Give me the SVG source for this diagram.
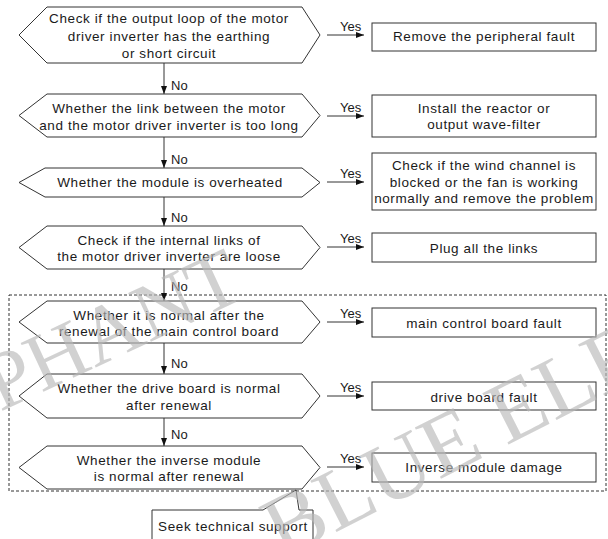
<svg xmlns="http://www.w3.org/2000/svg" width="608" height="539" viewBox="0 0 608 539">
<style>
.sh{fill:none;stroke:#333;stroke-width:1}
.t{font-family:"Liberation Sans",Arial,sans-serif;font-size:13.5px;letter-spacing:0.6px;fill:#1a1a1a;text-anchor:middle}
.lbl{font-family:"Liberation Sans",Arial,sans-serif;font-size:13px;fill:#1a1a1a}
.cn{fill:none;stroke:#333;stroke-width:1;marker-end:url(#ah)}
.wm{font-family:"Liberation Serif","Times New Roman",serif;fill:#b8b8b8;fill-opacity:0.65}
</style>
<defs>
<marker id="ah" markerUnits="userSpaceOnUse" markerWidth="8" markerHeight="6" refX="8" refY="3" orient="auto">
<path d="M0,0 L8,3 L0,6 z" fill="#111"/>
</marker>
</defs>
<rect x="9" y="295" width="597" height="196" fill="none" stroke="#333" stroke-width="1" stroke-dasharray="3,2"/>
<g id="connectors">
<line class="cn" x1="164" y1="63" x2="164" y2="94"/>
<line class="cn" x1="164" y1="137" x2="164" y2="168"/>
<line class="cn" x1="164" y1="197" x2="164" y2="226"/>
<line class="cn" x1="164" y1="269" x2="164" y2="301"/>
<line class="cn" x1="164" y1="343" x2="164" y2="374"/>
<line class="cn" x1="164" y1="418" x2="164" y2="446"/>
<text class="lbl" x="171" y="90">No</text>
<text class="lbl" x="171" y="164">No</text>
<text class="lbl" x="171" y="222">No</text>
<text class="lbl" x="171" y="291">No</text>
<text class="lbl" x="171" y="368">No</text>
<text class="lbl" x="171" y="439">No</text>
<line class="cn" x1="327" y1="35" x2="364" y2="35"/>
<line class="cn" x1="327" y1="116" x2="364" y2="116"/>
<line class="cn" x1="327" y1="182" x2="364" y2="182"/>
<line class="cn" x1="327" y1="247" x2="364" y2="247"/>
<line class="cn" x1="327" y1="322" x2="364" y2="322"/>
<line class="cn" x1="327" y1="396" x2="364" y2="396"/>
<line class="cn" x1="327" y1="467" x2="364" y2="467"/>
<text class="lbl" x="340" y="31">Yes</text>
<text class="lbl" x="340" y="112">Yes</text>
<text class="lbl" x="340" y="178">Yes</text>
<text class="lbl" x="340" y="243">Yes</text>
<text class="lbl" x="340" y="318">Yes</text>
<text class="lbl" x="340" y="392">Yes</text>
<text class="lbl" x="340" y="463">Yes</text>
</g>
<g id="q1"><polygon class="sh" points="47,7 302,7 320,35 302,63 47,63 19,35"/>
<text class="t" x="169" y="23">Check if the output loop of the motor</text>
<text class="t" x="169" y="40.5">driver inverter has the earthing</text>
<text class="t" x="169" y="58">or short circuit</text></g>
<g id="q2"><polygon class="sh" points="47,94 302,94 320,115.5 302,137 47,137 19,115.5"/>
<text class="t" x="169" y="113">Whether the link between the motor</text>
<text class="t" x="169" y="130">and the motor driver inverter is too long</text></g>
<g id="q3"><polygon class="sh" points="45,168 302,168 320,182.5 302,197 45,197 19,182.5"/>
<text class="t" x="170" y="187">Whether the module is overheated</text></g>
<g id="q4"><polygon class="sh" points="47,226 302,226 320,247.5 302,269 47,269 19,247.5"/>
<text class="t" x="169" y="245">Check if the internal links of</text>
<text class="t" x="169" y="261">the motor driver inverter are loose</text></g>
<g id="q5"><polygon class="sh" points="47,301 302,301 320,322 302,343 47,343 19,322"/>
<text class="t" x="169" y="320">Whether it is normal after the</text>
<text class="t" x="169" y="336">renewal of the main control board</text></g>
<g id="q6"><polygon class="sh" points="47,374 302,374 320,396 302,418 47,418 19,396"/>
<text class="t" x="169" y="393">Whether the drive board is normal</text>
<text class="t" x="169" y="410">after renewal</text></g>
<g id="q7"><polygon class="sh" points="47,446 302,446 320,467.5 302,489 47,489 19,467.5"/>
<text class="t" x="169" y="465">Whether the inverse module</text>
<text class="t" x="169" y="481">is normal after renewal</text></g>
<g id="a1"><rect class="sh" x="372" y="23" width="224" height="28"/>
<text class="t" x="484" y="41">Remove the peripheral fault</text></g>
<g id="a2"><rect class="sh" x="372" y="95" width="224" height="42"/>
<text class="t" x="484" y="113">Install the reactor or</text>
<text class="t" x="484" y="129">output wave-filter</text></g>
<g id="a3"><rect class="sh" x="372" y="153" width="224" height="57"/>
<text class="t" x="484" y="170">Check if the wind channel is</text>
<text class="t" x="484" y="187">blocked or the fan is working</text>
<text class="t" x="484" y="203">normally and remove the problem</text></g>
<g id="a4"><rect class="sh" x="372" y="233" width="224" height="29"/>
<text class="t" x="484" y="253">Plug all the links</text></g>
<g id="a5"><rect class="sh" x="372" y="308" width="224" height="29"/>
<text class="t" x="484" y="328">main control board fault</text></g>
<g id="a6"><rect class="sh" x="372" y="382" width="224" height="28"/>
<text class="t" x="484" y="402">drive board fault</text></g>
<g id="a7"><rect class="sh" x="372" y="453" width="224" height="29"/>
<text class="t" x="484" y="472">Inverse module damage</text></g>
<g id="seek"><polyline class="sh" points="152,545 152,510 263,510 296,490 299,510 313,510 313,545"/>
<text class="t" x="233" y="531">Seek technical support</text></g>
<text class="wm" font-size="82" transform="translate(0,412) rotate(-25)">PHANT</text>
<text class="wm" font-size="88" transform="translate(282,560) rotate(-27)">BLUE ELE</text>
</svg>
